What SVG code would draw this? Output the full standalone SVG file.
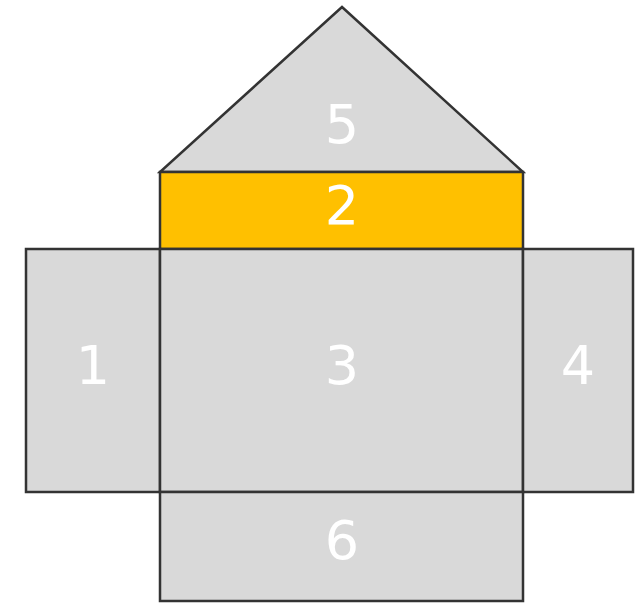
<svg xmlns="http://www.w3.org/2000/svg" width="637" height="603" viewBox="0 0 637 603">
<style>
.f{fill:#D9D9D9;stroke:#333333;stroke-width:2.5;stroke-linejoin:miter}
.o{fill:#FFC000;stroke:#333333;stroke-width:2.5}
.t{font-family:"DejaVu Sans",Verdana,sans-serif;font-size:54px;fill:#FFFFFF;text-anchor:middle}
</style>
<rect width="637" height="603" fill="#FFFFFF"/>
<g id="n5"><polygon class="f" points="342,7 523,172 160,172"/><text class="t" x="342" y="143">5</text></g>
<g id="n2"><rect class="o" x="160" y="172" width="363" height="77"/><text class="t" x="342" y="224">2</text></g>
<g id="n1"><rect class="f" x="26" y="249" width="134" height="243"/><text class="t" x="93" y="384">1</text></g>
<g id="n3"><rect class="f" x="160" y="249" width="363" height="243"/><text class="t" x="342" y="384">3</text></g>
<g id="n4"><rect class="f" x="523" y="249" width="110" height="243"/><text class="t" x="578" y="384">4</text></g>
<g id="n6"><rect class="f" x="160" y="492" width="363" height="109"/><text class="t" x="342" y="559">6</text></g>
<g id="connectors"></g>
</svg>
